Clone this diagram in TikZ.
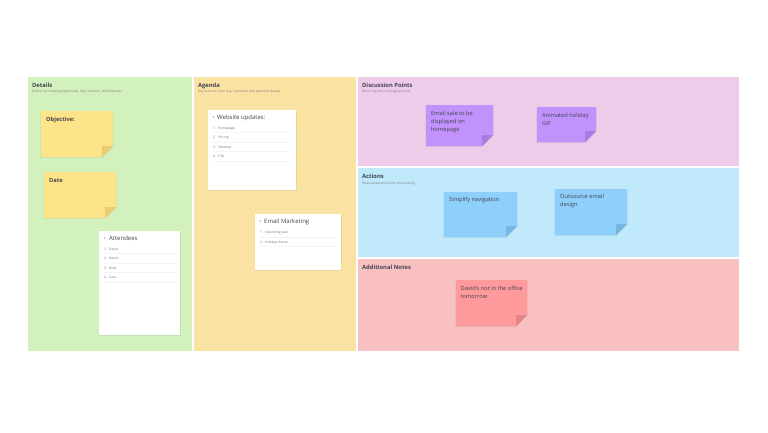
\documentclass[tikz,border=0pt]{standalone}
\usepackage{fontspec}
\setmainfont{Open Sans}
\definecolor{detailsgreen}{HTML}{D2F1BC}
\definecolor{agendayellow}{HTML}{FAE2A3}
\definecolor{pointspink}{HTML}{EDCBE9}
\definecolor{actionsblue}{HTML}{C0E9FC}
\definecolor{notesred}{HTML}{F9C0C2}
\definecolor{stickyyellow}{HTML}{FEE488}
\definecolor{foldyellow}{HTML}{E8CD72}
\definecolor{stickypurple}{HTML}{C192FB}
\definecolor{foldpurple}{HTML}{A97BE0}
\definecolor{stickyblue}{HTML}{8FCFFC}
\definecolor{foldblue}{HTML}{77B5E2}
\definecolor{stickyred}{HTML}{FE9A9B}
\definecolor{foldred}{HTML}{E28587}
\definecolor{inktext}{HTML}{44444F}
\tikzset{
  paneltitle/.style={anchor=base west, inner sep=0pt, font=\fontsize{5.8}{6}\selectfont\bfseries, text=inktext},
  panelhint/.style={anchor=base west, inner sep=0pt, font=\fontsize{3.2}{3.4}\selectfont, text=inktext!70},
  stickytext/.style={anchor=north west, inner sep=0pt, align=left, font=\fontsize{5.7}{8}\selectfont, text=inktext},
  stickybold/.style={stickytext, font=\fontsize{5.7}{8}\selectfont\bfseries},
  cardtitle/.style={anchor=base west, inner sep=0pt, font=\fontsize{6}{7}\selectfont, text=inktext},
  carditem/.style={anchor=base west, inner sep=0pt, font=\fontsize{3.3}{4}\selectfont, text=inktext!75},
  cardline/.style={line width=0.4pt, actionsblue!30},
  softedge/.style={fill=black, opacity=0.06, draw=none},
}
% sticky: left, top, right, bottom, paper colour, fold colour
\newcommand{\sticky}[6]{
  \fill[softedge] (#1-0.6,#2+0.5) to (#3+0.6,#2+0.5) to (#3+0.6,#4-10.5) to (#3-10.5,#4+1) to (#1-0.6,#4+1) -- cycle;
  \fill[#5] (#1,#2) to (#3,#2) to (#3,#4-11) to (#3-11,#4) to (#1,#4) -- cycle;
  \fill[#6] (#3,#4-11) to (#3-11,#4) to (#3-11,#4-11) -- cycle;
}
% card: left, top, right, bottom
\newcommand{\listcard}[4]{
  \fill[softedge] (#1-0.5,#2+0.5) rectangle (#3+0.5,#4+0.8);
  \fill[white] (#1,#2) rectangle (#3,#4);
}
\begin{document}
\begin{tikzpicture}[x=1pt,y=-1pt]
        \useasboundingbox (0,0) rectangle (768,432);
        \fill[white] (0,0) rectangle (768,432);
        % panels
        \fill[detailsgreen] (28,77) rectangle (192,351);
        \fill[agendayellow] (194,77) rectangle (356,351);
        \fill[pointspink] (358,77) rectangle (739,166);
        \fill[actionsblue] (358,168) rectangle (739,257);
        \fill[notesred] (358,259) rectangle (739,351);

        \node[paneltitle] (details) at (32,87) {Details};
        \node[panelhint] (detailshint) at (32,92) {Define the meeting objective(s), date, location, attendees etc.};
        \node[paneltitle] (agenda) at (198,87) {Agenda};
        \node[panelhint] (agendahint) at (198,92) {Key areas to cover (e.g. intentions and potential issues)};
        \node[paneltitle] (points) at (362,87) {Discussion Points};
        \node[panelhint] (pointshint) at (362,92) {Recurring ideas and agreements};
        \node[paneltitle] (actions) at (362,178) {Actions};
        \node[panelhint] (actionshint) at (362,184.5) {Tasks established from the meeting};
        \node[paneltitle] (notes) at (362,269) {Additional Notes};

        % stickies
        \sticky{41}{111}{113}{157}{stickyyellow}{foldyellow}
        \node[stickybold] (objective) at (46,117) {Objective:};
        \sticky{44}{172}{116}{218}{stickyyellow}{foldyellow}
        \node[stickybold] (date) at (49,178) {Date};
        \sticky{426}{105}{493}{146}{stickypurple}{foldpurple}
        \node[stickytext] (sale) at (431,111) {Email sale to be\\displayed on\\homepage};
        \sticky{537}{107}{596}{142}{stickypurple}{foldpurple}
        \node[stickytext] (gif) at (542,112.5) {Animated holiday\\GIF};
        \sticky{444}{192}{517}{237}{stickyblue}{foldblue}
        \node[stickytext] (simplify) at (449,197) {Simplify navigation};
        \sticky{555}{189}{627}{235}{stickyblue}{foldblue}
        \node[stickytext] (outsource) at (560,194) {Outsource email\\design};
        \sticky{456}{280}{527}{326}{stickyred}{foldred}
        \node[stickytext] (office) at (460.5,285.5) {David's not in the office\\tomorrow};

        % cards
        \listcard{99}{231}{180}{335}
        \fill[actionsblue!50!blue!60] (104.5,238) circle (0.8);
        \node[cardtitle] (attendees) at (109,240.2) {Attendees};
        \foreach \n/\who/\ypos in {1/David/250, 2/Alison/259.5, 3/Brad/269, 4/Sara/278.5}{
          \node[carditem] at (104,\ypos) {\n.};
          \node[carditem] at (109,\ypos) {\who};
          \draw[cardline] (104,\ypos+3.5) to (176,\ypos+3.5);
        }

        \listcard{208}{110}{296}{190}
        \fill[actionsblue!50!blue!60] (213.5,117) circle (0.8);
        \node[cardtitle] (website) at (217,119.2) {Website updates:};
        \foreach \n/\what/\ypos in {1/Homepage/129, 2/Pricing/138.5, 3/Sitemap/148, 4/CTA/157.5}{
          \node[carditem] at (213,\ypos) {\n.};
          \node[carditem] at (218,\ypos) {\what};
          \draw[cardline] (213,\ypos+3.5) to (291,\ypos+3.5);
        }

        \listcard{255}{214}{341}{270}
        \fill[actionsblue!50!blue!60] (260.5,221) circle (0.8);
        \node[cardtitle] (marketing) at (264,223.2) {Email Marketing};
        \foreach \n/\what/\ypos in {1/Upcoming sale/233.5, 2/Holiday theme/243}{
          \node[carditem] at (260,\ypos) {\n.};
          \node[carditem] at (265,\ypos) {\what};
          \draw[cardline] (260,\ypos+3.5) to (337,\ypos+3.5);
        }
    \end{tikzpicture}
\end{document}
